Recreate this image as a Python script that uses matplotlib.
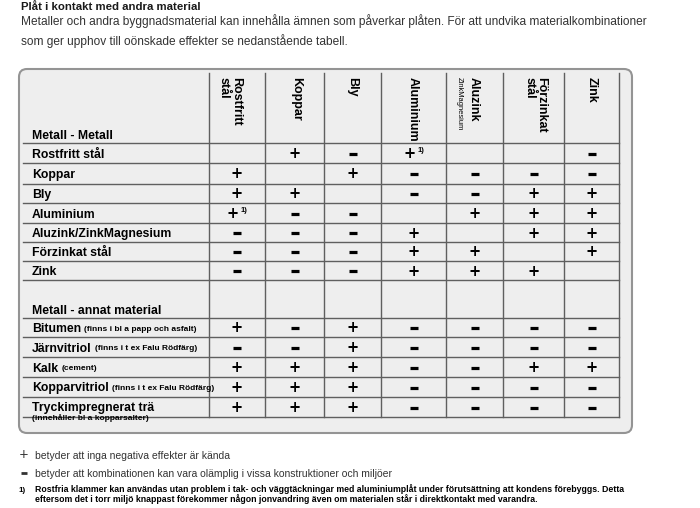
import matplotlib.pyplot as plt
from matplotlib.patches import FancyBboxPatch

plt.rcParams['font.family'] = ['Liberation Sans', 'DejaVu Sans']

# texts
title = "Plåt i kontakt med andra material"
intro = ["Metaller och andra byggnadsmaterial kan innehålla ämnen som påverkar plåten. "
         "För att undvika materialkombinationer",
         "som ger upphov till oönskade effekter se nedanstående tabell."]

# column headers, first line is drawn rightmost
col_headers = [["Rostfritt", "stål"], ["Koppar"], ["Bly"], ["Aluminium"],
               ["Aluzink", "ZinkMagnesium"], ["Förzinkat", "stål"], ["Zink"]]

metal_header = "Metall - Metall"
metal_rows = ["Rostfritt stål", "Koppar", "Bly", "Aluminium",
              "Aluzink/ZinkMagnesium", "Förzinkat stål", "Zink"]
# "+" = ok, "-" = may be unsuitable, "+1" = ok with footnote 1)
metal_values = [
    ["",   "+", "-", "+1", "",  "",  "-"],
    ["+",  "",  "+", "-",  "-", "-", "-"],
    ["+",  "+", "",  "-",  "-", "+", "+"],
    ["+1", "-", "-", "",   "+", "+", "+"],
    ["-",  "-", "-", "+",  "",  "+", "+"],
    ["-",  "-", "-", "+",  "+", "",  "+"],
    ["-",  "-", "-", "+",  "+", "+", ""],
]

other_header = "Metall - annat material"
other_rows = ["Bitumen", "Järnvitriol", "Kalk", "Kopparvitriol", "Tryckimpregnerat trä"]
other_notes = ["(finns i bl a papp och asfalt)", "(finns i t ex Falu Rödfärg)", "(cement)",
               "(finns i t ex Falu Rödfärg)", "(innehåller bl a kopparsalter)"]
other_values = [
    ["+", "-", "+", "-", "-", "-", "-"],
    ["-", "-", "+", "-", "-", "-", "-"],
    ["+", "+", "+", "-", "-", "+", "+"],
    ["+", "+", "+", "-", "-", "-", "-"],
    ["+", "+", "+", "-", "-", "-", "-"],
]

legend_items = [("+", "betyder att inga negativa effekter är kända"),
                ("-", "betyder att kombinationen kan vara olämplig i vissa konstruktioner och miljöer")]
footnote = ["Rostfria klammer kan användas utan problem i tak- och väggtäckningar med aluminiumplåt "
            "under förutsättning att kondens förebyggs. Detta",
            "eftersom det i torr miljö knappast förekommer någon jonvandring även om materialen "
            "står i direktkontakt med varandra."]

# layout in pixels
col_edges = [209, 265, 324, 381, 446, 503, 564, 619]
metal_lines = [143, 163, 184, 203, 223, 242, 261, 280]
other_lines = [318, 337, 357, 377, 397, 417]
header_x = [[236, 224], [296], [352], [413], [474, 459], [541, 530], [592]]
line_col = '#5f5f5f'

fig = plt.figure(figsize=(7, 5.08), dpi=100)
ax = fig.add_axes([0, 0, 1, 1])
ax.set_xlim(0, 700)
ax.set_ylim(508, 0)
ax.axis('off')

# intro text
ax.text(21, 6.5, title, fontsize=8.2, fontweight='bold', va='center', color='#1a1a1a')
ax.text(21, 21.5, intro[0], fontsize=8.6, va='center', color='#333333')
ax.text(21, 41, intro[1], fontsize=8.6, va='center', color='#333333')

# table background
box = FancyBboxPatch((19, 69), 613, 364, boxstyle="round,pad=0,rounding_size=8",
                     fc='#eeeeee', ec='#949494', lw=1.5)
ax.add_patch(box)

for x in col_edges:
    ax.plot([x, x], [73, 417], color=line_col, lw=1)
for y in metal_lines + other_lines:
    ax.plot([23, 619], [y, y], color=line_col, lw=1)

# column headers
for lines, xs in zip(col_headers, header_x):
    for txt, x in zip(lines, xs):
        small = txt == "ZinkMagnesium"
        ax.text(x, 77, txt, rotation=-90, ha='center', va='top',
                fontsize=5.4 if small else 9, fontweight='normal' if small else 'bold')


def draw_cell(val, x, y):
    if val == "+":
        ax.text(x, y, "+", ha='center', va='center', fontsize=10.5, fontweight='bold',
                family='DejaVu Sans')
    elif val == "-":
        ax.plot(x, y, marker='_', ms=6, mew=2.3, color='black')
    elif val == "+1":
        ax.text(x - 4, y, "+", ha='center', va='center', fontsize=10.5, fontweight='bold',
                family='DejaVu Sans')
        ax.text(x + 4, y - 3, "1)", ha='left', va='center', fontsize=5.5, fontweight='bold')


centers = [(a + b) / 2 for a, b in zip(col_edges[:-1], col_edges[1:])]

# section 1
ax.text(32, 136, metal_header, fontsize=8.8, fontweight='bold', va='center')
for i, name in enumerate(metal_rows):
    y = (metal_lines[i] + metal_lines[i + 1]) / 2
    ax.text(32, y + 1.5, name, fontsize=8.8, fontweight='bold', va='center')
    for j, val in enumerate(metal_values[i]):
        draw_cell(val, centers[j], y + 0.5)

# section 2
ax.text(32, 311.5, other_header, fontsize=8.8, fontweight='bold', va='center')
fig.canvas.draw()
renderer = fig.canvas.get_renderer()
inv = ax.transData.inverted()
for i, (name, note) in enumerate(zip(other_rows, other_notes)):
    y = (other_lines[i] + other_lines[i + 1]) / 2
    t = ax.text(32, y + 1.5, name, fontsize=8.8, fontweight='bold', va='center')
    if i == len(other_rows) - 1:
        ax.text(32, y + 11, note, fontsize=6, fontweight='bold', va='center')
    else:
        bb = t.get_window_extent(renderer)
        x_end = inv.transform((bb.x1, bb.y0))[0]
        ax.text(x_end + 3, y + 2, note, fontsize=6, fontweight='bold', va='center')
    for j, val in enumerate(other_values[i]):
        draw_cell(val, centers[j], y + 0.5)

# legend and footnote
for (sym, txt), y in zip(legend_items, [455, 473]):
    if sym == "+":
        ax.text(24, y, sym, ha='center', va='center', fontsize=8.5,
                family='DejaVu Sans', color='#333333')
    else:
        ax.plot(24, y, marker='_', ms=5, mew=2, color='#333333')
    ax.text(35, y + 1, txt, fontsize=7.5, va='center', color='#333333')
ax.text(22, 491, "1)", ha='center', va='center', fontsize=5.8, fontweight='bold')
ax.text(35, 489, footnote[0], fontsize=6.3, fontweight='bold', va='center')
ax.text(35, 499, footnote[1], fontsize=6.3, fontweight='bold', va='center')

fig.savefig("out.png", dpi=100, facecolor='white')
